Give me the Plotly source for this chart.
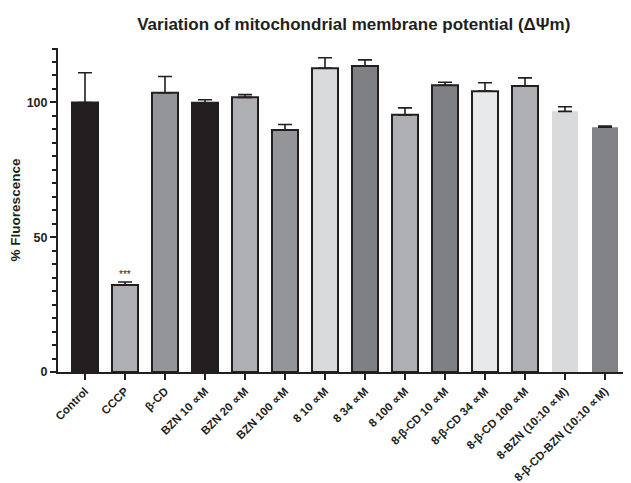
import plotly.graph_objects as go

categories = ["Control", "CCCP", "β-CD", "BZN 10 ∝M", "BZN 20 ∝M", "BZN 100 ∝M",
              "8 10 ∝M", "8 34 ∝M", "8 100 ∝M", "8-β-CD 10 ∝M", "8-β-CD 34 ∝M",
              "8-β-CD 100 ∝M", "8-BZN (10:10 ∝M)", "8-β-CD-BZN (10:10 ∝M)"]
values = [100.0, 32.3, 103.6, 99.9, 101.9, 89.8, 112.7, 113.5, 95.4, 106.4, 104.2, 106.1, 96.7, 90.8]
errors = [11.0, 1.1, 6.0, 1.1, 1.0, 2.0, 3.9, 2.3, 2.6, 1.1, 3.1, 3.0, 1.7, 0.4]
colors = ["#231f20", "#aeafb2", "#939598", "#231f20", "#aeafb2", "#939598", "#d9dadb",
          "#7f8083", "#aeafb2", "#7f8083", "#e8e9ea", "#aeafb2", "#d9dadb", "#808285"]
borders = [2, 2, 2, 2, 2, 2, 2, 2, 2, 2, 2, 2, 0, 0]
y_ticks = [0, 50, 100]

FONT = "Liberation Sans, Arial, sans-serif"
x = list(range(len(categories)))

fig = go.Figure()
fig.add_trace(go.Bar(
    x=x, y=values, width=0.65,
    marker=dict(color=colors, line=dict(color="#231f20", width=borders)),
    error_y=dict(type="data", array=errors, arrayminus=[0] * len(errors),
                 symmetric=False, color="#231f20", thickness=1.6, width=7),
    showlegend=False,
))

fig.add_annotation(x=1, y=values[1] + errors[1], yshift=7, text="***", showarrow=False,
                   font=dict(family=FONT, size=10, color="#231f20"))

fig.update_layout(
    width=623, height=475,
    margin=dict(l=50, r=1, t=40, b=111),
    paper_bgcolor="white", plot_bgcolor="white",
    font=dict(family=FONT, color="#231f20"),
    title=dict(text="Variation of mitochondrial membrane potential (ΔΨm)",
               x=0.555, xanchor="center", y=0.966, yanchor="middle",
               font=dict(family=FONT, size=17, weight="bold", color="#231f20")),
    bargap=0.35,
)
fig.update_xaxes(
    range=[-0.675, 13.625], tickvals=x, ticktext=categories, tickangle=-45,
    showline=True, linecolor="#231f20", linewidth=2, automargin=False,
    ticks="outside", ticklen=6, tickwidth=2, tickcolor="#231f20",
    tickfont=dict(family=FONT, size=11.5, weight="bold", color="#231f20"),
    showgrid=False, zeroline=False,
)
fig.update_yaxes(
    range=[0, 120.2], tickvals=y_ticks, automargin=False,
    showline=True, linecolor="#231f20", linewidth=2,
    ticks="outside", ticklen=6, tickwidth=2, tickcolor="#231f20",
    minor=dict(dtick=5, ticks="outside", ticklen=4, tickwidth=2, tickcolor="#231f20", showgrid=False),
    tickfont=dict(family=FONT, size=12.5, weight="bold", color="#231f20"),
    title=dict(text="% Fluorescence", standoff=5,
               font=dict(family=FONT, size=13.5, weight="bold", color="#231f20")),
    showgrid=False, zeroline=False,
)

fig.write_html("out.html")
